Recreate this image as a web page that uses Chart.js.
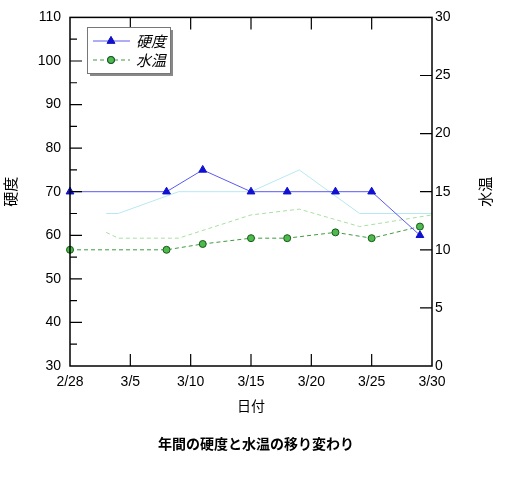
<!DOCTYPE html>
<html>
<head>
<meta charset="utf-8">
<script src="https://cdn.jsdelivr.net/npm/chart.js@4"></script>
<style>
    html, body { margin: 0; padding: 0; background: #fff; }
    #wrap { width: 512px; height: 477px; }
</style>
</head>
<body>
<div id="wrap"><canvas id="chart" width="512" height="477"></canvas></div>
<script>
const dayTickLabels = ["2/28", "3/5", "3/10", "3/15", "3/20", "3/25", "3/30"];

const hardnessDays = [0, 8, 11, 15, 18, 22, 25, 29];
const hardnessValues = [70, 70, 75, 70, 70, 70, 70, 60];

const tempDays = [0, 8, 11, 15, 18, 22, 25, 29];
const tempValues = [10, 10, 10.5, 11, 11, 11.5, 11, 12];

// faint reference lines behind the main series
const prevDays = [3, 4, 9, 15, 19, 24, 30];
const prevHardnessValues = [65, 65, 70, 70, 75, 65, 65];
const prevTempValues = [11.5, 11, 11, 13, 13.5, 12, 13];

const jpFont = "'Noto Sans CJK JP', 'Noto Sans', sans-serif";
const numFont = "'Liberation Sans', Arial, sans-serif";

function toPoints(xs, ys) {
    return xs.map((d, i) => ({ x: d, y: ys[i] }));
}

const frameTicks = {
    id: "frameTicks",
    afterDatasetsDraw(chart) {
        const { ctx, chartArea, scales } = chart;
        const { left, right, top, bottom } = chartArea;

        ctx.save();
        ctx.strokeStyle = "#000";
        ctx.lineWidth = 1.5;
        ctx.strokeRect(left, top, right - left, bottom - top);

        ctx.lineWidth = 1.2;
        ctx.beginPath();
        scales.x.ticks.forEach((t) => {
            const px = scales.x.getPixelForValue(t.value);
            if (t.value <= scales.x.min || t.value >= scales.x.max) {
                return;
            }
            ctx.moveTo(px, bottom);
            ctx.lineTo(px, bottom - 12);
            ctx.moveTo(px, top);
            ctx.lineTo(px, top + 12);
        });

        const yTicks = scales.y.ticks;
        yTicks.forEach((t, i) => {
            if (t.value > scales.y.min && t.value < scales.y.max) {
                const py = scales.y.getPixelForValue(t.value);
                ctx.moveTo(left, py);
                ctx.lineTo(left + 12, py);
            }
            if (i < yTicks.length - 1) {
                const mid = (t.value + yTicks[i + 1].value) / 2;
                const py = scales.y.getPixelForValue(mid);
                ctx.moveTo(left, py);
                ctx.lineTo(left + 7, py);
            }
        });

        scales.y1.ticks.forEach((t) => {
            if (t.value <= scales.y1.min || t.value >= scales.y1.max) {
                return;
            }
            const py = scales.y1.getPixelForValue(t.value);
            ctx.moveTo(right, py);
            ctx.lineTo(right - 12, py);
        });
        ctx.stroke();
        ctx.restore();
    },
    afterDraw(chart) {
        const { ctx, chartArea } = chart;

        // right axis title reads bottom-to-top like the left one
        ctx.save();
        ctx.translate(chart.scales.y1.right - 26.5, (chartArea.top + chartArea.bottom) / 2);
        ctx.rotate(-Math.PI / 2);
        ctx.font = "15px " + jpFont;
        ctx.fillStyle = "#000";
        ctx.textAlign = "center";
        ctx.textBaseline = "middle";
        ctx.fillText("水温", 0, 0);
        ctx.restore();

        // legend box
        const bx = 87, by = 27, bw = 83, bh = 46;
        ctx.save();
        ctx.fillStyle = "#888";
        ctx.fillRect(bx + 3, by + 3, bw, bh);
        ctx.fillStyle = "#fff";
        ctx.fillRect(bx, by, bw, bh);
        ctx.strokeStyle = "#777";
        ctx.lineWidth = 1;
        ctx.strokeRect(bx + 0.5, by + 0.5, bw, bh);

        const ds = chart.data.datasets;
        const rows = [
            { ds: ds[0], y: by + 14 },
            { ds: ds[1], y: by + 33 }
        ];
        rows.forEach((row) => {
            ctx.save();
            ctx.strokeStyle = row.ds.borderColor;
            ctx.lineWidth = 1;
            ctx.setLineDash(row.ds.borderDash || []);
            ctx.beginPath();
            ctx.moveTo(bx + 6, row.y);
            ctx.lineTo(bx + 43, row.y);
            ctx.stroke();
            ctx.restore();
            Chart.helpers.drawPoint(ctx, {
                pointStyle: row.ds.pointStyle,
                radius: row.ds.pointRadius,
                borderWidth: row.ds.pointBorderWidth
            }, bx + 24, row.y);
            ctx.fillStyle = row.ds.pointBackgroundColor;
            ctx.strokeStyle = row.ds.pointBorderColor;
            ctx.fill();
            ctx.stroke();

            ctx.fillStyle = "#000";
            ctx.font = "italic 15px " + jpFont;
            ctx.textAlign = "left";
            ctx.textBaseline = "middle";
            ctx.fillText(row.ds.label, bx + 49, row.y);
        });
        ctx.restore();
    }
};

new Chart(document.getElementById("chart"), {
    type: "line",
    data: {
        datasets: [
            {
                label: "硬度",
                data: toPoints(hardnessDays, hardnessValues),
                yAxisID: "y",
                borderColor: "#5a5af0",
                borderWidth: 1,
                pointStyle: "triangle",
                pointRadius: 4.5,
                pointBorderWidth: 1,
                pointBackgroundColor: "#1010d0",
                pointBorderColor: "#1010d0",
                clip: false
            },
            {
                label: "水温",
                data: toPoints(tempDays, tempValues),
                yAxisID: "y1",
                borderColor: "#3f9a3f",
                borderWidth: 1,
                borderDash: [4, 3],
                pointStyle: "circle",
                pointRadius: 3.5,
                pointBorderWidth: 1,
                pointBackgroundColor: "#4fb84f",
                pointBorderColor: "#145c14",
                clip: false
            },
            {
                label: "prevHardness",
                data: toPoints(prevDays, prevHardnessValues),
                yAxisID: "y",
                borderColor: "#b8e8f2",
                borderWidth: 1,
                pointRadius: 0,
                clip: false
            },
            {
                label: "prevTemp",
                data: toPoints(prevDays, prevTempValues),
                yAxisID: "y1",
                borderColor: "#a8e0a0",
                borderWidth: 1,
                borderDash: [4, 3],
                pointRadius: 0,
                clip: false
            }
        ]
    },
    options: {
        responsive: false,
        animation: false,
        events: [],
        layout: { padding: { top: 14, left: 0, right: 0, bottom: 0 } },
        plugins: {
            legend: { display: false },
            tooltip: { enabled: false },
            title: {
                display: true,
                position: "bottom",
                text: "年間の硬度と水温の移り変わり",
                color: "#000",
                font: { family: jpFont, size: 14, weight: "bold" },
                padding: { top: 0, bottom: 25 }
            }
        },
        scales: {
            x: {
                type: "linear",
                min: 0,
                max: 30,
                grid: { display: false, drawTicks: false },
                border: { display: false },
                ticks: {
                    stepSize: 5,
                    color: "#000",
                    padding: 8,
                    maxRotation: 0,
                    font: { family: numFont, size: 14 },
                    callback: (v) => dayTickLabels[v / 5]
                },
                title: {
                    display: true,
                    text: "日付",
                    color: "#000",
                    font: { family: jpFont, size: 14 },
                    padding: { top: 0, bottom: 21 }
                },
                afterFit(scale) {
                    scale.height = 69.2;
                }
            },
            y: {
                position: "left",
                min: 30,
                max: 110,
                grid: { display: false, drawTicks: false },
                border: { display: false },
                ticks: {
                    stepSize: 10,
                    color: "#000",
                    padding: 9,
                    font: { family: numFont, size: 14 }
                },
                title: {
                    display: true,
                    text: "硬度",
                    color: "#000",
                    font: { family: jpFont, size: 15 },
                    padding: { top: 1, bottom: 0 }
                },
                afterFit(scale) {
                    scale.width = 70;
                }
            },
            y1: {
                position: "right",
                min: 0,
                max: 30,
                grid: { display: false, drawTicks: false },
                border: { display: false },
                ticks: {
                    stepSize: 5,
                    color: "#000",
                    padding: 3,
                    font: { family: numFont, size: 14 }
                },
                afterFit(scale) {
                    scale.width = 80;
                }
            }
        }
    },
    plugins: [frameTicks]
});
</script>
</body>
</html>
